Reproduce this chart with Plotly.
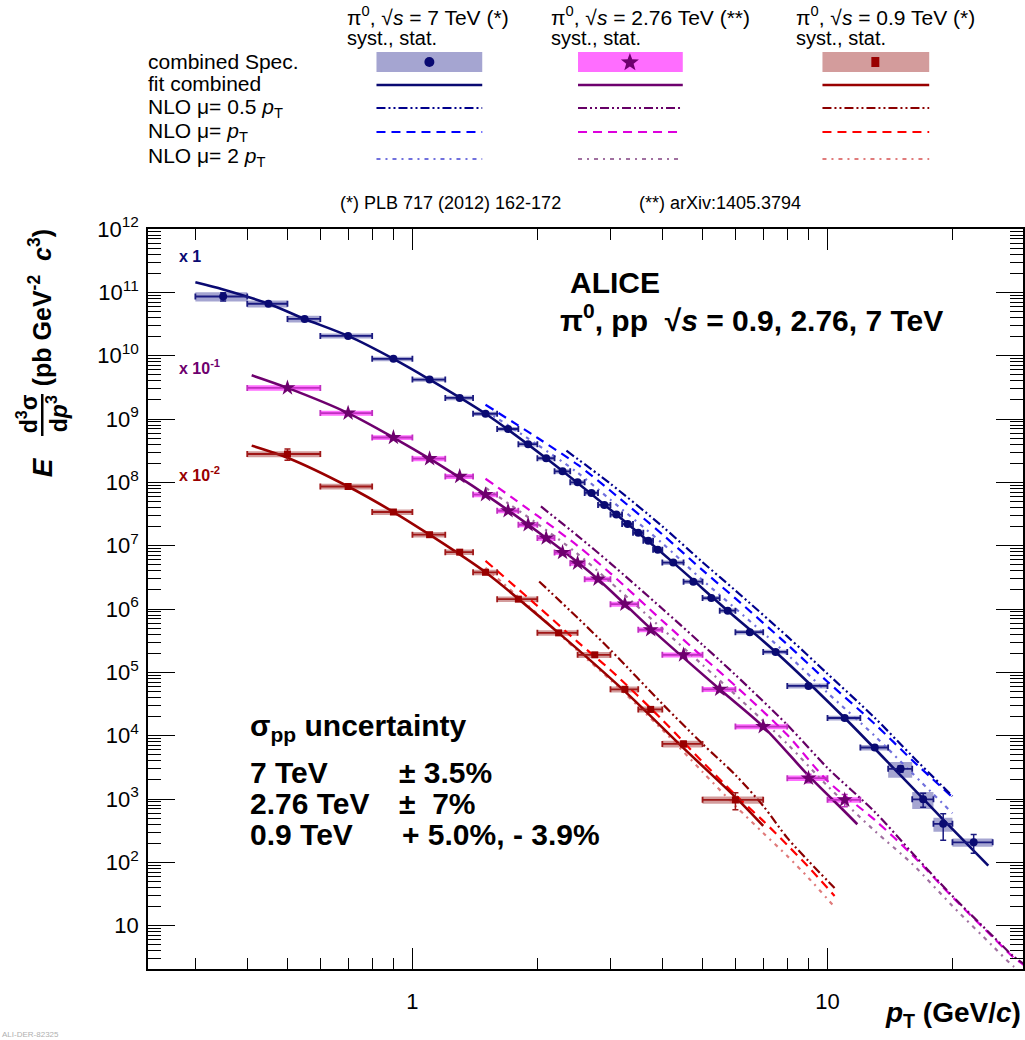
import math
import plotly.graph_objects as go

FONT = "Liberation Sans, Arial, Helvetica, sans-serif"

# ---------------- data (values as plotted, incl. scale factors) ----------------
# pi0, pp 7 TeV (x 1)
pt7 = [0.35, 0.45, 0.55, 0.7, 0.9, 1.1, 1.3, 1.5, 1.7, 1.9, 2.1, 2.3, 2.5, 2.7, 2.9, 3.1, 3.3, 3.5, 3.7, 3.9,
       4.25, 4.75, 5.25, 5.75, 6.5, 7.5, 9, 11, 13, 15, 17, 19, 22.5]
pt7_lo = [0.3, 0.4, 0.5, 0.6, 0.8, 1.0, 1.2, 1.4, 1.6, 1.8, 2.0, 2.2, 2.4, 2.6, 2.8, 3.0, 3.2, 3.4, 3.6, 3.8,
          4.0, 4.5, 5.0, 5.5, 6.0, 7.0, 8.0, 10, 12, 14, 16, 18, 20]
pt7_hi = [0.4, 0.5, 0.6, 0.8, 1.0, 1.2, 1.4, 1.6, 1.8, 2.0, 2.2, 2.4, 2.6, 2.8, 3.0, 3.2, 3.4, 3.6, 3.8, 4.0,
          4.5, 5.0, 5.5, 6.0, 7.0, 8.0, 10, 12, 14, 16, 18, 20, 25]
y7 = [8.6e10, 6.6e10, 3.8e10, 2.05e10, 8.9e9, 4.2e9, 2.15e9, 1.21e9, 6.95e8, 4.0e8, 2.4e8, 1.49e8, 1.0e8, 6.8e7,
      4.4e7, 3.1e7, 2.2e7, 1.6e7, 1.2e7, 8.6e6, 5.4e6, 2.7e6, 1.49e6, 9.4e5, 4.3e5, 2.1e5, 6.1e4, 1.9e4, 6.5e3,
      3.0e3, 990, 405, 207]
stat7 = [0.15, 0.03, 0.03, 0.02, 0.02, 0.02, 0.02, 0.02, 0.02, 0.02, 0.02, 0.02, 0.02, 0.02, 0.02, 0.02, 0.02,
         0.02, 0.02, 0.02, 0.02, 0.02, 0.02, 0.03, 0.03, 0.04, 0.05, 0.06, 0.07, 0.12, 0.25, 0.45, 0.33]
syst7 = [0.17, 0.13, 0.12, 0.09, 0.08, 0.08, 0.08, 0.08, 0.08, 0.08, 0.08, 0.08, 0.08, 0.08, 0.08, 0.08, 0.08,
         0.08, 0.08, 0.08, 0.08, 0.08, 0.08, 0.08, 0.08, 0.08, 0.09, 0.09, 0.10, 0.28, 0.30, 0.25, 0.15]
fit7_x = [0.3, 0.35, 0.45, 0.55, 0.7, 0.9, 1.1, 1.5, 2.1, 3.1, 4.25, 5.75, 7.5, 11, 15, 19, 24.4]
fit7_y = [1.44e11, 1.11e11, 6.6e10, 3.8e10, 2.05e10, 8.9e9, 4.2e9, 1.21e9, 2.4e8, 3.1e7, 5.4e6, 9.4e5, 2.1e5,
          1.9e4, 2.36e3, 473, 89]
nlo7_x = [1.5, 2.0, 2.5, 3.0, 4.0, 5.0, 6.0, 8.0, 10.0, 13.0, 16.0, 20.0]
nlo7_pt = [1.68e9, 5.06e8, 1.90e8, 7.36e7, 1.51e7, 4.10e6, 1.47e6, 2.76e5, 7.11e4, 1.53e4, 4.10e3, 1.07e3]
nlo7_2pt = [1.35e9, 3.93e8, 1.42e8, 5.31e7, 1.09e7, 2.85e6, 1.02e6, 1.92e5, 4.76e4, 9.9e3, 2.56e3, 597]
nlo7_half_x = [2.35, 3.0, 4.0, 5.0, 6.0, 8.0, 10.0, 13.0, 16.0, 20.0]
nlo7_half = [3.16e8, 9.5e7, 2.02e7, 5.48e6, 1.96e6, 3.69e5, 9.5e4, 1.91e4, 4.75e3, 1.11e3]

# pi0, pp 2.76 TeV (x 10^-1)
pt276 = [0.5, 0.7, 0.9, 1.1, 1.3, 1.5, 1.7, 1.9, 2.1, 2.3, 2.5, 2.8, 3.25, 3.75, 4.5, 5.5, 7, 9, 11]
pt276_lo = [0.4, 0.6, 0.8, 1.0, 1.2, 1.4, 1.6, 1.8, 2.0, 2.2, 2.4, 2.6, 3.0, 3.5, 4.0, 5.0, 6.0, 8.0, 10]
pt276_hi = [0.6, 0.8, 1.0, 1.2, 1.4, 1.6, 1.8, 2.0, 2.2, 2.4, 2.6, 3.0, 3.5, 4.0, 5.0, 6.0, 8.0, 10, 12]
y276 = [3.1e9, 1.24e9, 5.1e8, 2.36e8, 1.24e8, 6.4e7, 3.56e7, 2.14e7, 1.32e7, 7.8e6, 5.3e6, 2.96e6, 1.19e6,
        4.7e5, 1.89e5, 5.4e4, 1.39e4, 2.13e3, 970]
stat276 = [0.02, 0.02, 0.02, 0.02, 0.02, 0.02, 0.02, 0.02, 0.02, 0.02, 0.02, 0.02, 0.03, 0.04, 0.05, 0.06,
           0.08, 0.15, 0.22]
syst276 = [0.10, 0.09, 0.09, 0.09, 0.09, 0.09, 0.09, 0.09, 0.09, 0.09, 0.09, 0.09, 0.09, 0.09, 0.09, 0.09,
           0.09, 0.10, 0.10]
fit276_x = [0.41, 0.5, 0.7, 0.9, 1.1, 1.5, 2.1, 2.8, 3.75, 5.5, 7, 9, 11, 11.8]
fit276_y = [4.9e9, 3.1e9, 1.24e9, 5.1e8, 2.36e8, 6.4e7, 1.32e7, 2.96e6, 4.9e5, 5.4e4, 1.39e4, 2.34e3, 635, 400]
nlo276_x = [1.5, 2.0, 2.5, 3.0, 4.0, 5.0, 6.0, 8.0, 10.0, 13.0, 16.0, 20.0, 25.0, 28.0, 30.0]
nlo276_pt = [1.14e8, 2.97e7, 9.96e6, 3.66e6, 6.52e5, 1.76e5, 6.12e4, 1.03e4, 1.93e3, 468, 131, 28.4, 6.62, 3.2,
             2.3]
nlo276_2pt = [8.22e7, 2.22e7, 7.45e6, 2.64e6, 4.86e5, 1.31e5, 4.42e4, 7.41e3, 1.61e3, 313, 94.4, 20.5, 4.78,
              2.31, 1.7]
nlo276_half_x = [2.04, 2.5, 3.0, 4.0, 5.0, 6.0, 8.0, 10.0, 13.0, 16.0, 20.0, 25.0, 28.0, 30.0]
nlo276_half = [4.16e7, 1.43e7, 5.27e6, 1.01e6, 2.72e5, 9.12e4, 1.48e4, 3.10e3, 625, 141, 29.4, 6.87, 3.32, 2.4]

# pi0, pp 0.9 TeV (x 10^-2)
pt09 = [0.5, 0.7, 0.9, 1.1, 1.3, 1.5, 1.8, 2.25, 2.75, 3.25, 3.75, 4.5, 6.0]
pt09_lo = [0.4, 0.6, 0.8, 1.0, 1.2, 1.4, 1.6, 2.0, 2.5, 3.0, 3.5, 4.0, 5.0]
pt09_hi = [0.6, 0.8, 1.0, 1.2, 1.4, 1.6, 2.0, 2.5, 3.0, 3.5, 4.0, 5.0, 7.0]
y09 = [2.8e8, 8.6e7, 3.4e7, 1.49e7, 7.9e6, 3.8e6, 1.43e6, 4.2e5, 1.89e5, 5.4e4, 2.6e4, 7.4e3, 970]
stat09 = [0.20, 0.03, 0.03, 0.03, 0.03, 0.03, 0.03, 0.04, 0.05, 0.06, 0.08, 0.10, 0.30]
syst09 = [0.11, 0.10, 0.10, 0.10, 0.10, 0.10, 0.10, 0.10, 0.11, 0.11, 0.11, 0.12, 0.13]
fit09_x = [0.41, 0.5, 0.7, 0.9, 1.1, 1.5, 2.25, 3.25, 4.5, 6, 7]
fit09_y = [3.8e8, 2.45e8, 8.6e7, 3.4e7, 1.49e7, 3.8e6, 4.2e5, 5.0e4, 6.35e3, 1.07e3, 376]
nlo09_x = [1.5, 2.0, 2.5, 3.0, 4.0, 5.0, 6.0, 7.0, 8.0, 9.0, 10.4]
nlo09_pt = [5.77e6, 1.12e6, 3.03e5, 1.09e5, 1.78e4, 3.85e3, 1.16e3, 451, 188, 84.5, 29.4]
nlo09_2pt = [4.48e6, 8.39e5, 2.19e5, 7.62e4, 1.24e4, 2.68e3, 778, 291, 126, 56.8, 19.7]
nlo09_half_x = [2.02, 2.5, 3.0, 4.0, 5.0, 6.0, 7.0, 8.0, 9.0, 10.4]
nlo09_half = [2.72e6, 7.26e5, 2.26e5, 3.18e4, 7.41e3, 2.40e3, 778, 243, 105, 39.4]

y_tick_vals = [10.0 ** k for k in range(1, 13)]
y_tick_text = ["10"] + ["10<sup>%d</sup>" % k for k in range(2, 13)]
x_tick_vals = [1, 10]
x_tick_text = ["1", "10"]

# ---------------- styles ----------------
C7 = dict(main="#0a0a72", box="rgba(30,30,140,0.40)", half="#00008c", pt="#0000ff", two="#7070dd", err="#1a1a80")
C276 = dict(main="#6e006e", box="rgba(255,60,255,0.75)", half="#660066", pt="#dd00dd", two="#a070a0", err="#c030c0")
C09 = dict(main="#990000", box="rgba(150,20,20,0.42)", half="#8b0000", pt="#ff0000", two="#e07b7b", err="#a01818")

DASH_HALF = "9px,3px,2px,3px,2px,3px"
DASH_PT = "9px,6px"
DASH_TWO = "4px,5px,2px,5px"

L, R, T, B = 148, 1025, 229, 969


def P(px, py):
    return (px - L) / (R - L), (B - py) / (B - T)


fig = go.Figure()


def add_boxes(lo, hi, y, rel, color):
    xs, ys = [], []
    for a, b, v, r in zip(lo, hi, y, rel):
        xs += [a, b, b, a, a, None]
        ys += [v * (1 - r), v * (1 - r), v * (1 + r), v * (1 + r), v * (1 - r), None]
    fig.add_trace(go.Scatter(x=xs, y=ys, mode="lines", fill="toself", fillcolor=color,
                             line=dict(width=0, color=color), hoverinfo="skip", showlegend=False))


def add_line(x, y, color, dash, width):
    fig.add_trace(go.Scatter(x=x, y=y, mode="lines", line=dict(color=color, dash=dash, width=width,
                                                                 shape="spline", smoothing=0.8),
                             hoverinfo="skip", showlegend=False))


def add_points(x, lo, hi, y, stat, color, ecolor, symbol, size):
    fig.add_trace(go.Scatter(
        x=x, y=y, mode="markers",
        marker=dict(symbol=symbol, size=size, color=color, line=dict(width=0)),
        error_x=dict(type="data", symmetric=False,
                     array=[h - c for c, h in zip(x, hi)],
                     arrayminus=[c - l for c, l in zip(x, lo)],
                     color=ecolor, thickness=1.8, width=3),
        error_y=dict(type="data", array=[v * s for v, s in zip(y, stat)], color=ecolor, thickness=1.5, width=3),
        showlegend=False))


# systematic boxes
add_boxes(pt7_lo, pt7_hi, y7, syst7, C7["box"])
add_boxes(pt276_lo, pt276_hi, y276, syst276, C276["box"])
add_boxes(pt09_lo, pt09_hi, y09, syst09, C09["box"])

# NLO curves
for (xh, yh, xa, ya, yb, c) in [
    (nlo7_half_x, nlo7_half, nlo7_x, nlo7_pt, nlo7_2pt, C7),
    (nlo276_half_x, nlo276_half, nlo276_x, nlo276_pt, nlo276_2pt, C276),
    (nlo09_half_x, nlo09_half, nlo09_x, nlo09_pt, nlo09_2pt, C09),
]:
    add_line(xa, yb, c["two"], DASH_TWO, 2.2)
    add_line(xa, ya, c["pt"], DASH_PT, 2.2)
    add_line(xh, yh, c["half"], DASH_HALF, 2.2)

# fits
add_line(fit7_x, fit7_y, C7["main"], "solid", 2.6)
add_line(fit276_x, fit276_y, C276["main"], "solid", 2.6)
add_line(fit09_x, fit09_y, C09["main"], "solid", 2.6)

# data points
add_points(pt7, pt7_lo, pt7_hi, y7, stat7, C7["main"], C7["err"], "circle", 8)
add_points(pt276, pt276_lo, pt276_hi, y276, stat276, C276["main"], C276["err"], "star", 12)
add_points(pt09, pt09_lo, pt09_hi, y09, stat09, C09["main"], C09["err"], "square", 7)

# ---------------- annotations ----------------
ann = []


def text(t, px, py, size, color="black", xa="left", ya="middle", angle=0):
    x, y = P(px, py)
    ann.append(dict(text=t, x=x, y=y, xref="paper", yref="paper", xanchor=xa, yanchor=ya, showarrow=False,
                    textangle=angle, font=dict(family=FONT, size=size, color=color)))


# legend headers
for x0, lab in [(345, "π<sup>0</sup>, √<i>s</i> = 7 TeV (*)"),
                (550, "π<sup>0</sup>, √<i>s</i> = 2.76 TeV (**)"),
                (795, "π<sup>0</sup>, √<i>s</i> = 0.9 TeV (*)")]:
    text(lab, x0, 16, 21)
    text("syst., stat.", x0, 38, 20)

text("combined Spec.", 146, 62, 21)
text("fit combined", 146, 84, 21)
text("NLO μ= 0.5 <i>p</i><sub>T</sub>", 146, 108, 21)
text("NLO μ= <i>p</i><sub>T</sub>", 146, 132, 21)
text("NLO μ= 2 <i>p</i><sub>T</sub>", 146, 157, 21)
text("(*) PLB 717 (2012) 162-172", 338, 203, 18)
text("(**) arXiv:1405.3794", 638, 203, 18)

# in-plot labels
text("<b>x 1</b>", 177, 257, 16, C7["main"])
text("<b>x 10<sup>-1</sup></b>", 177, 367, 16, C276["main"])
text("<b>x 10<sup>-2</sup></b>", 177, 474, 16, C09["main"])
text("<b>ALICE</b>", 569, 282, 30)
text("<b>π<sup>0</sup>, pp  √<i>s</i> = 0.9, 2.76, 7 TeV</b>", 559, 318, 30)
text("<b>σ<sub>pp</sub> uncertainty</b>", 248, 727, 30)
text("<b>7 TeV</b>", 248, 772, 30)
text("<b>2.76 TeV</b>", 248, 803, 30)
text("<b>0.9 TeV</b>", 248, 834, 30)
text("<b>± 3.5%</b>", 398, 772, 30)
text("<b>±  7%</b>", 398, 803, 30)
text("<b>+ 5.0%, - 3.9%</b>", 401, 834, 30)

# axis titles
text("<b><i>p</i><sub>T</sub> (GeV/<i>c</i>)</b>", 1025, 1014, 28, xa="right")
text("<b><i>E</i></b>", 42, 467, 28, xa="center", angle=-90)
text("<b>d<sup>3</sup>σ</b>", 27, 414, 23, xa="center", angle=-90)
text("<b>d<i>p</i><sup>3</sup></b>", 57, 414, 23, xa="center", angle=-90)
text("<b>(pb GeV<sup>-2</sup>  <i>c</i><sup>3</sup>)</b>", 40, 308, 25, xa="center", angle=-90)
text("ALI-DER-82325", 0, 1034, 8, color="#b0b0b0")

# ---------------- shapes (legend graphics) ----------------
shapes = []


def rect(px0, py0, px1, py1, fill):
    x0, y0 = P(px0, py0)
    x1, y1 = P(px1, py1)
    shapes.append(dict(type="rect", xref="paper", yref="paper", x0=x0, y0=y0, x1=x1, y1=y1,
                       fillcolor=fill, line=dict(width=0)))


def hline(px0, px1, py, color, dash, width):
    x0, y = P(px0, py)
    x1, _ = P(px1, py)
    shapes.append(dict(type="line", xref="paper", yref="paper", x0=x0, y0=y, x1=x1, y1=y,
                       line=dict(color=color, dash=dash, width=width)))


legend_cols = [(377, 483, C7), (579, 684, C276), (824, 931, C09)]
for a, b, c in legend_cols:
    rect(a, 52, b, 72, c["box"])
    hline(a, b, 85, c["main"], "solid", 2.6)
    hline(a, b, 108, c["half"], DASH_HALF, 2.2)
    hline(a, b, 132, c["pt"], DASH_PT, 2.2)
    hline(a, b, 159, c["two"], DASH_TWO, 2.2)

# legend markers
cx0, cy0 = P(425, 57)
cx1, cy1 = P(435, 67)
shapes.append(dict(type="circle", xref="paper", yref="paper", x0=cx0, y0=cy0, x1=cx1, y1=cy1,
                   fillcolor=C7["main"], line=dict(width=0)))
rect(873, 57, 881, 67, C09["main"])
pts = []
for i in range(10):
    r = 9.5 if i % 2 == 0 else 3.9
    ang = -math.pi / 2 + i * math.pi / 5
    pts.append(P(631 + r * math.cos(ang), 62.5 + r * math.sin(ang)))
path = "M " + " L ".join("%.5f,%.5f" % p for p in pts) + " Z"
shapes.append(dict(type="path", xref="paper", yref="paper", path=path, fillcolor=C276["main"],
                   line=dict(width=0)))

# y-title fraction bar
bx, by0 = P(42, 394)
_, by1 = P(42, 436)
shapes.append(dict(type="line", xref="paper", yref="paper", x0=bx, y0=by0, x1=bx, y1=by1,
                   line=dict(color="black", width=2.5)))

# ---------------- axes ----------------
x_minor = [0.3, 0.4, 0.5, 0.6, 0.7, 0.8, 0.9, 2, 3, 4, 5, 6, 7, 8, 9, 20, 30]
y_minor = [k * 10.0 ** n for n in range(0, 12) for k in range(2, 10)]

fig.update_layout(
    width=1025, height=1040,
    margin=dict(l=L, r=1025 - R, t=T, b=1040 - B, pad=0),
    paper_bgcolor="white", plot_bgcolor="white",
    showlegend=False,
    annotations=ann, shapes=shapes,
    font=dict(family=FONT, color="black"),
    xaxis=dict(type="log", range=[-0.637, 1.471], showgrid=False, zeroline=False,
               showline=True, linecolor="black", linewidth=1.6, mirror="ticks",
               ticks="inside", ticklen=21, tickwidth=1, tickcolor="black",
               tickmode="array", tickvals=x_tick_vals, ticktext=x_tick_text,
               tickfont=dict(family=FONT, size=22, color="black"), ticklabelstandoff=12,
               minor=dict(tickmode="array", tickvals=x_minor, ticks="inside", ticklen=11,
                          tickcolor="black", tickwidth=1, showgrid=False)),
    yaxis=dict(type="log", range=[0.316, 12], showgrid=False, zeroline=False,
               showline=True, linecolor="black", linewidth=1.6, mirror="ticks",
               ticks="inside", ticklen=27, tickwidth=1, tickcolor="black",
               tickmode="array", tickvals=y_tick_vals, ticktext=y_tick_text,
               tickfont=dict(family=FONT, size=22, color="black"), ticklabelstandoff=3,
               minor=dict(tickmode="array", tickvals=y_minor, ticks="inside", ticklen=13,
                          tickcolor="black", tickwidth=1, showgrid=False)),
)

fig.write_html("out.html")
